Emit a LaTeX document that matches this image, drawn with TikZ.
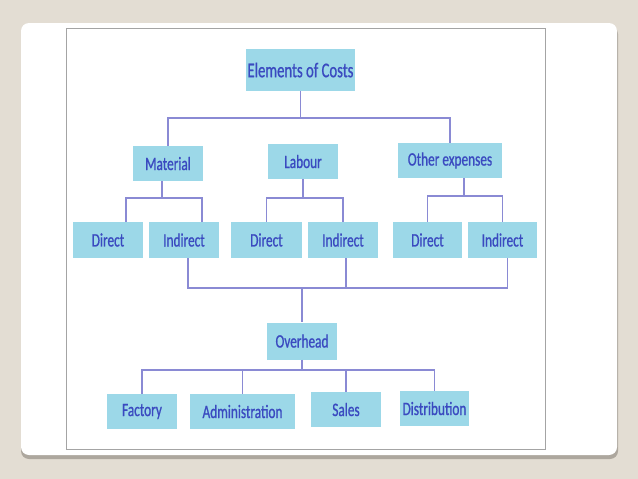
\documentclass[tikz,border=0pt]{standalone}
\usepackage{fontspec}
\newfontfamily\boxfont[FakeStretch=0.7, FakeBold=0.8]{Carlito}
\definecolor{slidebg}{HTML}{E3DDD3}
\definecolor{cardshadow}{HTML}{ADA79E}
\definecolor{framegray}{HTML}{A4A4A4}
\definecolor{boxcyan}{HTML}{9CD8E8}
\definecolor{boxtext}{HTML}{3A4AC0}
\definecolor{linkviolet}{HTML}{8A8AD4}
\usetikzlibrary{positioning}
\tikzset{
  costbox/.style={
    fill=boxcyan, text=boxtext, inner sep=0pt,
    minimum height=35pt, minimum width=70pt,
    align=center, font=\boxfont\fontsize{19}{21}\selectfont
  },
  link/.style={draw=linkviolet, line width=1.5pt}
}

\begin{document}
\begin{tikzpicture}[x=1pt, y=-1pt]
      % slide background and card
      \fill[slidebg] (0,0) rectangle (638,479);
      \useasboundingbox (0,0) rectangle (638,479);
      \fill[cardshadow, rounded corners=8pt] (21,26) rectangle (618,459);
      \fill[white, rounded corners=8pt] (21,23) rectangle (617,455);
      \draw[framegray, line width=1pt] (66,28) rectangle (545,449);

      % boxes
      \node[costbox, minimum width=109pt, minimum height=42pt,
            font=\boxfont\fontsize{21}{23}\selectfont] (costs) at (300.5,70) {Elements of Costs};
      \node[costbox] (material) at (168,163.5) {Material};
      \node[costbox] (labour)   at (303,161.5) {Labour};
      \node[costbox, minimum width=104pt] (other) at (450,160.5) {Other expenses};

      \node[costbox, minimum height=36pt] (dirm) at (108,240)   {Direct};
      \node[costbox, minimum height=36pt] (indm) at (184,240)   {Indirect};
      \node[costbox, minimum height=36pt, minimum width=71pt] (dirl) at (266.5,240) {Direct};
      \node[costbox, minimum height=36pt] (indl) at (343,240)   {Indirect};
      \node[costbox, minimum height=36pt, minimum width=69pt] (diro) at (427.5,240) {Direct};
      \node[costbox, minimum height=36pt, minimum width=69pt] (indo) at (502.5,240) {Indirect};

      \node[costbox, minimum height=37pt] (overhead) at (302,341) {Overhead};

      \node[costbox] (factory) at (142,411.5) {Factory};
      \node[costbox, minimum width=105pt] (admin) at (242.5,411.5) {Administration};
      \node[costbox] (sales) at (346,409.5) {Sales};
      \node[costbox, minimum width=69pt] (distrib) at (434.5,408.5) {Distribution};

      % connectors
      \draw[link] (costs.south) -- (costs.south |- 0,118);
      \draw[link] (material.north) |- (costs.south |- 0,118) -| (other.north);

      \draw[link] ([xshift=-6pt]material.south) -- ([xshift=-6pt]material.south |- 0,198);
      \draw[link] ([xshift=18pt]dirm.north) |- ([xshift=-6pt]material.south |- 0,198) -| ([xshift=18pt]indm.north);
      \draw[link] (labour.south) -- (labour.south |- 0,198);
      \draw[link] (dirl.north) |- (labour.south |- 0,198) -| (indl.north);
      \draw[link] ([xshift=14pt]other.south) -- ([xshift=14pt]other.south |- 0,196);
      \draw[link] (diro.north) |- ([xshift=14pt]other.south |- 0,196) -| (indo.north);

      \draw[link] ([xshift=4pt]indm.south) |- (overhead.north |- 0,288) -| ([xshift=5pt]indo.south);
      \draw[link] ([xshift=3pt]indl.south) -- ([xshift=3pt]indl.south |- 0,288);
      \draw[link] (overhead.north |- 0,288) -- (overhead.north);

      \draw[link] (overhead.south) -- (overhead.south |- 0,370);
      \draw[link] (factory.north) |- (overhead.south |- 0,370) -| (distrib.north);
      \draw[link] (admin.north) -- (admin.north |- 0,370);
      \draw[link] (sales.north) -- (sales.north |- 0,370);
    \end{tikzpicture}
\end{document}
